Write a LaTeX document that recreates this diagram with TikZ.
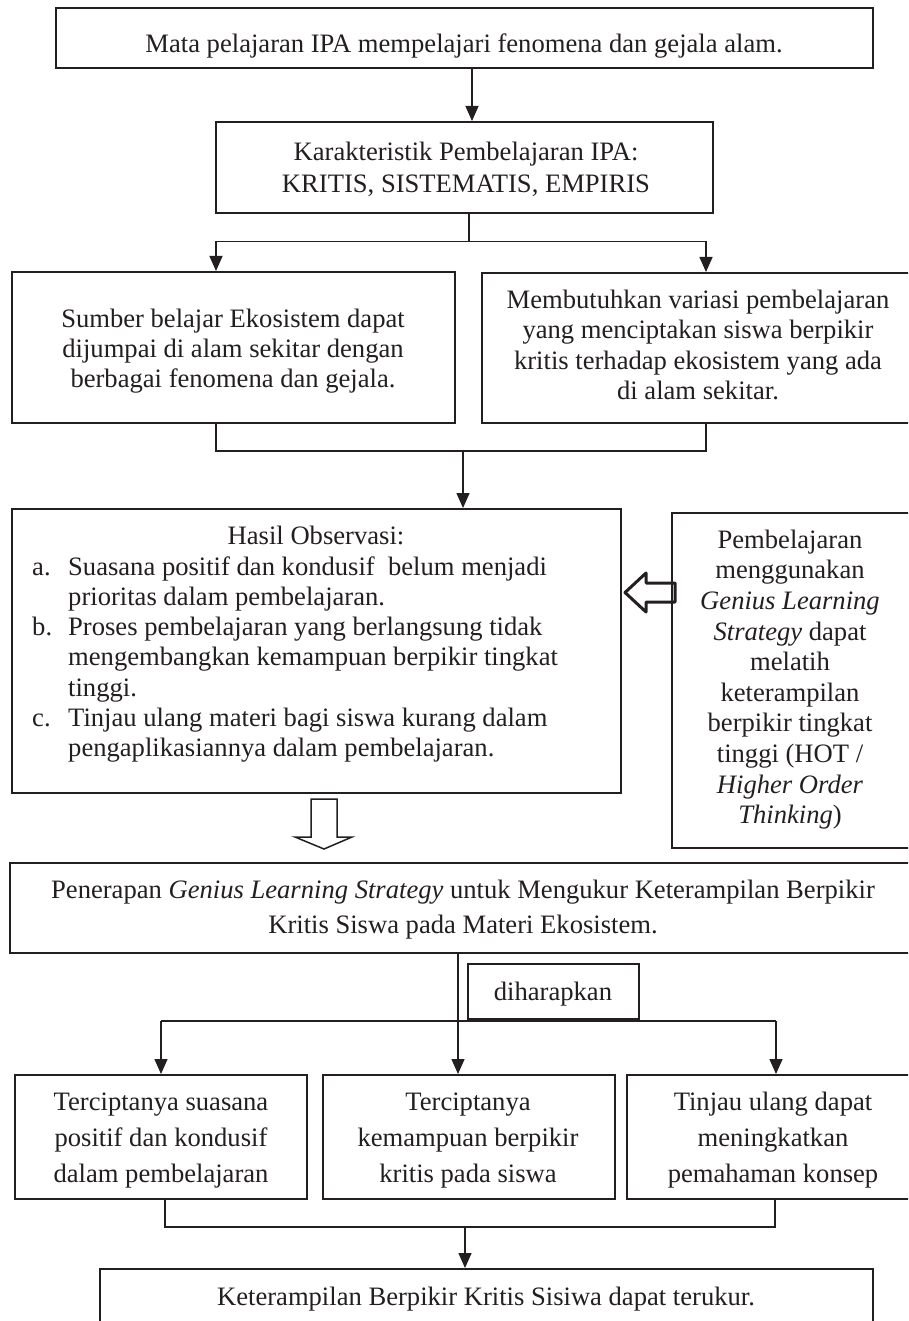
\documentclass[tikz,border=0pt]{standalone}
\usepackage{fontspec}
\setmainfont{Liberation Serif}
\usetikzlibrary{arrows.meta}
\definecolor{ink}{RGB}{35,31,32}
\newcommand\fz[1]{\fontsize{26.6pt}{#1pt}\selectfont\lineskiplimit=-50pt\lineskip=0pt}
\newcommand\bx[5]{\node[box, minimum width={(#4-#2)*1pt}, minimum height={(#5-#3)*1pt}] (#1) at ({(#2+#4)/2},{(#3+#5)/2}) {};}
\newcommand\tl[5]{\node[txt, font=\fz{#4}] (#1) at (#2,#3-20) {\rule{0pt}{20pt}#5};}
\begin{document}
\begin{tikzpicture}[x=1pt,y=-1pt,
  box/.style={draw=ink, line width=2pt, inner sep=0pt, rectangle},
  conn/.style={draw=ink, line width=1.4pt},
  arr/.style={conn, -{Triangle[length=15pt,width=13pt]}},
  txt/.style={anchor=north, inner sep=0pt, align=center, text=ink},
]
\useasboundingbox (0,0) rectangle (908,1321);
\clip (0,0) rectangle (908,1321);
\fill[white] (0,0) rectangle (908,1321);

% boxes
\bx{b1}{56}{8}{873}{68}
\bx{b2}{216}{122}{713}{213}
\bx{b3}{12}{272}{455}{423}
\bx{b4}{482}{273}{916}{423}
\bx{b5}{12}{509}{621}{793}
\bx{b6}{672}{513}{912}{848}
\bx{b7}{10}{863}{918}{953}
\bx{bd}{468}{964}{639}{1019}
\bx{bA}{14.5}{1075}{307}{1199}
\bx{bB}{322.5}{1075}{615}{1199}
\bx{bC}{627}{1075}{920}{1199}
\bx{bF}{100}{1269}{873}{1340}

% texts
\tl{t1}{464}{52}{30}{Mata pelajaran IPA mempelajari fenomena dan gejala alam.}
\tl{t2}{466}{160}{32}{Karakteristik Pembelajaran IPA:\\KRITIS, SISTEMATIS, EMPIRIS}
\tl{t3}{233}{327}{30}{Sumber belajar Ekosistem dapat\\dijumpai di alam sekitar dengan\\berbagai fenomena dan gejala.}
\tl{t4}{698}{308}{30.5}{Membutuhkan variasi pembelajaran\\yang menciptakan siswa berpikir\\kritis terhadap ekosistem yang ada\\di alam sekitar.}
\tl{t5h}{316}{544}{30}{Hasil Observasi:}
\node[txt, anchor=north west, align=left, font=\fz{30.2}] (t5) at (32,555)
  {\rule{0pt}{20pt}\makebox[36pt][l]{a.}Suasana positif dan kondusif~ belum menjadi\\
   \hspace*{36pt}prioritas dalam pembelajaran.\\
   \makebox[36pt][l]{b.}Proses pembelajaran yang berlangsung tidak\\
   \hspace*{36pt}mengembangkan kemampuan berpikir tingkat\\
   \hspace*{36pt}tinggi.\\
   \makebox[36pt][l]{c.}Tinjau ulang materi bagi siswa kurang dalam\\
   \hspace*{36pt}pengaplikasiannya dalam pembelajaran.};
\tl{t6}{790}{548}{30.6}{Pembelajaran\\menggunakan\\\textit{Genius Learning}\\\textit{Strategy} dapat\\melatih\\keterampilan\\berpikir tingkat\\tinggi (HOT /\\\textit{Higher Order}\\\textit{Thinking})}
\tl{t7}{463}{898}{35}{Penerapan \textit{Genius Learning Strategy} untuk Mengukur Keterampilan Berpikir\\Kritis Siswa pada Materi Ekosistem.}
\tl{td}{553}{1000}{30}{diharapkan}
\tl{tA}{161}{1110}{36}{Terciptanya suasana\\positif dan kondusif\\dalam pembelajaran}
\tl{tB}{468}{1110}{36}{Terciptanya\\kemampuan berpikir\\kritis pada siswa}
\tl{tC}{773}{1110}{36}{Tinjau ulang dapat\\meningkatkan\\pemahaman konsep}
\tl{tF}{486}{1305}{30}{Keterampilan Berpikir Kritis Sisiwa dapat terukur.}

% connector coordinates
\coordinate (c1) at (472,0);
\coordinate (s1) at (469,241.7);
\coordinate (sL) at (216,241.7);
\coordinate (sR) at (706,241.7);
\coordinate (jL) at (216,451);
\coordinate (jR) at (706,451);
\coordinate (m1) at (463,451);
\coordinate (m2) at (458,0);
\coordinate (hL) at (161,1021);
\coordinate (hR) at (776,1021);
\coordinate (kL) at (165,1227);
\coordinate (kR) at (775,1227);
\coordinate (m3) at (465,1227);

% connectors
\draw[arr] (b1.south -| c1) -- (b2.north -| c1);
\draw[conn] (b2.south -| s1) -- (s1);
\draw[arr] (s1) -| (b3.north -| sL);
\draw[arr] (s1) -| (b4.north -| sR);
\draw[conn] (b3.south -| jL) -- (jL) -- (jR) -- (b4.south -| jR);
\draw[arr] (m1) -- (b5.north -| m1);
\draw[arr] (b7.south -| m2) -- (bB.north -| m2);
\draw[conn] (hL) -- (hR);
\draw[arr] (hL) -- (bA.north -| hL);
\draw[arr] (hR) -- (bC.north -| hR);
\draw[conn] (bA.south -| kL) -- (kL) -- (kR) -- (bC.south -| kR);
\draw[arr] (m3) -- (bF.north -| m3);

% hollow arrows
\draw[ink, line width=3pt, line join=round] (675,583) -- (646,583) -- (646,573) -- (625,592.5) -- (646,612) -- (646,602) -- (675,602) -- cycle;
\draw[ink, line width=1.5pt, line join=miter] (311,799) -- (337,799) -- (337,837) -- (352,837) -- (324,849) -- (295,837) -- (311,837) -- cycle;
\end{tikzpicture}
\end{document}
